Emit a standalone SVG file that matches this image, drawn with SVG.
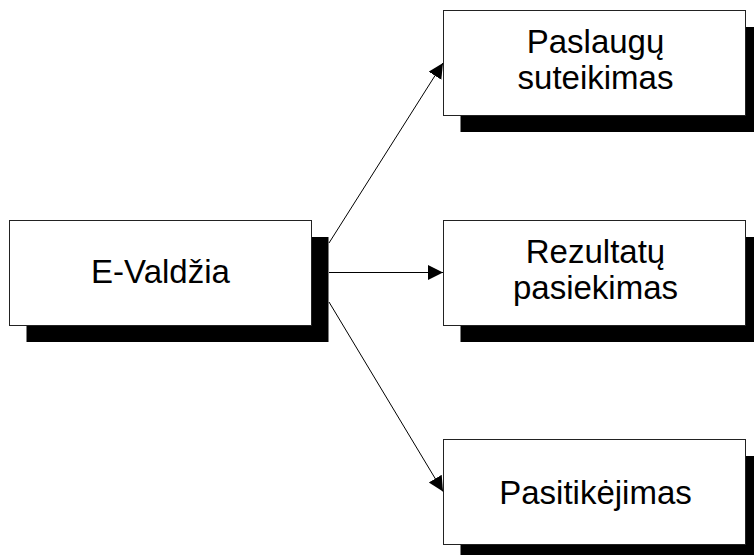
<svg xmlns="http://www.w3.org/2000/svg" width="754" height="555" viewBox="0 0 754 555">
<style>
.box{fill:#fff;stroke:#222;stroke-width:1}
.shadow{fill:#000}
.lbl{font-family:"Liberation Sans",Arial,sans-serif;font-size:33px;fill:#000;text-anchor:middle}
.conn{stroke:#000;stroke-width:1;fill:none}
</style>
<defs>
<marker id="ah" markerUnits="userSpaceOnUse" markerWidth="16" markerHeight="16" refX="15" refY="7.5" orient="auto">
<path d="M0,0 L15,7.5 L0,15 Z" fill="#000"/>
</marker>
</defs>
<rect width="754" height="555" fill="#fff"/>
<g id="node-evaldzia">
<rect class="shadow" x="26.5" y="237" width="302" height="105"/>
<rect class="box" x="9.5" y="220.5" width="302" height="105"/>
<text class="lbl" x="160.5" y="283">E-Valdžia</text>
</g>
<g id="node-paslaugu">
<rect class="shadow" x="460.5" y="27" width="302" height="105"/>
<rect class="box" x="443.5" y="10.5" width="302" height="105"/>
<text class="lbl" x="595.5" y="52.5">Paslaugų</text>
<text class="lbl" x="595.5" y="88.5">suteikimas</text>
</g>
<g id="node-rezultatu">
<rect class="shadow" x="460.5" y="237" width="302" height="105"/>
<rect class="box" x="443.5" y="220.5" width="302" height="105"/>
<text class="lbl" x="595.5" y="262.5">Rezultatų</text>
<text class="lbl" x="595.5" y="298.5">pasiekimas</text>
</g>
<g id="node-pasitikejimas">
<rect class="shadow" x="460.5" y="456" width="302" height="105"/>
<rect class="box" x="443.5" y="439.5" width="302" height="105"/>
<text class="lbl" x="595.5" y="503.5">Pasitikėjimas</text>
</g>
<g id="connectors">
<line class="conn" x1="329" y1="243" x2="443" y2="63" marker-end="url(#ah)"/>
<line class="conn" x1="329" y1="272.5" x2="443" y2="272.5" marker-end="url(#ah)"/>
<line class="conn" x1="329" y1="302" x2="443" y2="491.5" marker-end="url(#ah)"/>
</g>
</svg>
